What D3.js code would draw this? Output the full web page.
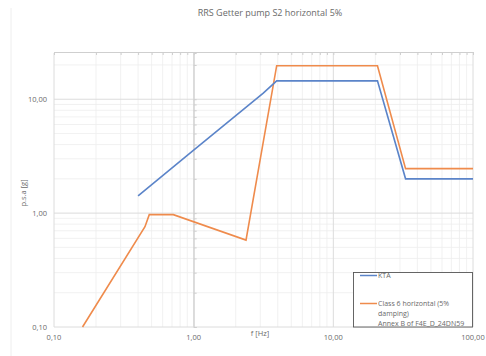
<!DOCTYPE html>
<html><head><meta charset="utf-8">
<script src="https://cdn.jsdelivr.net/npm/d3@7"></script>
<style>body{margin:0;background:#fff}svg{display:block}text{font-family:"Open Sans","Liberation Sans",sans-serif}</style>
</head><body><svg id="c" width="486" height="356"></svg>
<script>
const title = "RRS Getter pump S2 horizontal 5%";
const ktaFreq = [0.40, 0.97, 2.33, 3.15, 3.93, 20.7, 32.9, 100];
const ktaAcc  = [1.42, 3.47, 8.34, 11.3, 14.5, 14.5, 2.0, 2.0];
const c6Freq = [0.160, 0.448, 0.481, 0.715, 2.37, 3.93, 20.7, 32.9, 100];
const c6Acc  = [0.10, 0.76, 0.97, 0.97, 0.58, 19.7, 19.7, 2.46, 2.46];
const xTicks = [0.1, 1, 10, 100];
const xTickLabels = ["0,10", "1,00", "10,00", "100,00"];
const yTicks = [0.1, 1, 10];
const yTickLabels = ["0,10", "1,00", "10,00"];
const legendLabels = ["KTA", ["Class 6 horizontal (5%", "damping)", "Annex B of F4E_D_24DN59"]];

const svg = d3.select("#c");
const L = 54, R = 473, T = 53, B = 327;
const x = d3.scaleLog().domain([0.1, 100]).range([L, R]);
const y = d3.scaleLog().domain([0.1, Math.pow(10, 1.406)]).range([B, T]);
const textCol = "#6a6a6a";

// outer faint border
svg.append("line").attr("x1", 11).attr("x2", 11).attr("y1", 8).attr("y2", 356).attr("stroke", "#eee");

// minor grid
const xMinor = [];
for (let d = 0.1; d < 100; d *= 10) for (let k = 2; k <= 9; k++) xMinor.push(d * k);
const yMinor = [];
for (let d = 0.1; d < 20; d *= 10) for (let k = 2; k <= 9; k++) { const v = d * k; if (v <= y.domain()[1]) yMinor.push(v); }
svg.append("g").selectAll("line").data(xMinor).join("line")
  .attr("x1", d => x(d)).attr("x2", d => x(d)).attr("y1", T).attr("y2", B)
  .attr("stroke", "#ededed").attr("stroke-width", 0.8);
svg.append("g").selectAll("line").data(yMinor).join("line")
  .attr("x1", L).attr("x2", R).attr("y1", d => y(d)).attr("y2", d => y(d))
  .attr("stroke", "#ededed").attr("stroke-width", 0.8);
// major grid
svg.append("g").selectAll("line").data(xTicks).join("line")
  .attr("x1", d => x(d)).attr("x2", d => x(d)).attr("y1", T).attr("y2", B)
  .attr("stroke", "#dcdcdc").attr("stroke-width", 1);
svg.append("g").selectAll("line").data(yTicks).join("line")
  .attr("x1", L).attr("x2", R).attr("y1", d => y(d)).attr("y2", d => y(d))
  .attr("stroke", "#dcdcdc").attr("stroke-width", 1);

// axis at top with ticks (horizontal axis crossing at max)
const topAxis = d3.axisBottom(x).tickValues(xMinor.concat(xTicks)).tickSize(3).tickFormat("");
svg.append("g").attr("transform", `translate(0,${T - 1})`).call(topAxis)
  .call(g => g.selectAll("line,path").attr("stroke", "#cfcfcf"));
// vertical axis crossing at f=1
const midAxis = d3.axisRight(y).tickValues(yMinor.concat(yTicks)).tickSize(3).tickFormat("");
svg.append("g").attr("transform", `translate(${x(1)},0)`).call(midAxis)
  .call(g => g.selectAll("line,path").attr("stroke", "#cfcfcf"));

// tick labels
svg.append("g").selectAll("text").data(xTicks).join("text")
  .attr("x", d => x(d)).attr("y", 340).attr("text-anchor", "middle")
  .attr("font-size", 7.5).attr("fill", textCol).text((d, i) => xTickLabels[i]);
svg.append("g").selectAll("text").data(yTicks).join("text")
  .attr("x", 47).attr("y", d => y(d) + 2.5).attr("text-anchor", "end")
  .attr("font-size", 7.5).attr("fill", textCol).text((d, i) => yTickLabels[i]);

// titles
svg.append("text").attr("x", 270).attr("y", 16).attr("text-anchor", "middle")
  .attr("font-size", 9).attr("fill", textCol).text(title);
svg.append("text").attr("x", 260).attr("y", 336).attr("text-anchor", "middle")
  .attr("font-size", 7.5).attr("fill", textCol).text("f [Hz]");
svg.append("text").attr("transform", "translate(26,193) rotate(-90)").attr("text-anchor", "middle")
  .attr("font-size", 7.5).attr("fill", textCol).text("p.s.a [g]");

// lines
const line = d3.line().x(d => x(d[0])).y(d => y(d[1]));
const blue = "#5b84c9", orange = "#ef8b4c";
svg.append("path").datum(c6Freq.map((f, i) => [f, c6Acc[i]])).attr("d", line)
  .attr("fill", "none").attr("stroke", orange).attr("stroke-width", 1.6);
svg.append("path").datum(ktaFreq.map((f, i) => [f, ktaAcc[i]])).attr("d", line)
  .attr("fill", "none").attr("stroke", blue).attr("stroke-width", 1.6);

// legend
const lg = svg.append("g");
lg.append("rect").attr("x", 353.5).attr("y", 272.5).attr("width", 119).attr("height", 54.5)
  .attr("fill", "#fff").attr("stroke", "#555").attr("stroke-width", 0.9);
lg.append("line").attr("x1", 360).attr("x2", 377).attr("y1", 275.5).attr("y2", 275.5).attr("stroke", blue).attr("stroke-width", 1.5);
lg.append("text").attr("x", 378).attr("y", 278).attr("font-size", 7).attr("fill", textCol).text(legendLabels[0]);
lg.append("line").attr("x1", 360).attr("x2", 377).attr("y1", 303.5).attr("y2", 303.5).attr("stroke", orange).attr("stroke-width", 1.5);
legendLabels[1].forEach((t, i) => {
  lg.append("text").attr("x", 378).attr("y", 306 + i * 10).attr("font-size", 7).attr("fill", textCol).text(t);
});
</script></body></html>
